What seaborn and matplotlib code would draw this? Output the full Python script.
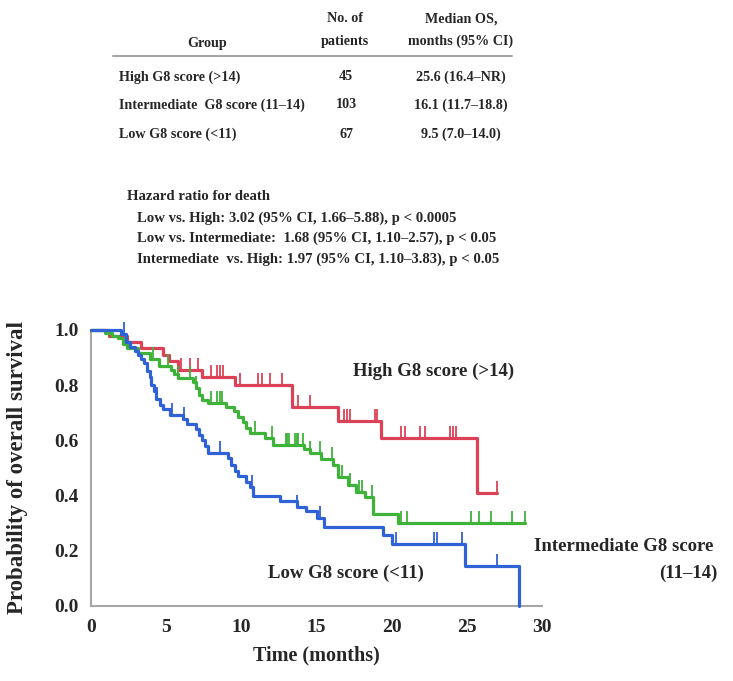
import numpy as np
import pandas as pd
import matplotlib
matplotlib.use("Agg")
import matplotlib.pyplot as plt
import seaborn as sns
from matplotlib.ticker import MultipleLocator

# ---------------- data ----------------
high_times = [0, 1.2, 2.4, 3.3, 4.8, 5.2, 5.8, 7.4, 9.6, 13.4, 16.4, 19.3, 25.7, 27.0]
high_surv = [1.0, 0.978, 0.956, 0.933, 0.911, 0.889, 0.856, 0.83, 0.80, 0.72, 0.67, 0.61, 0.41, 0.41]
high_cens = [6.0, 6.6, 7.1, 8.0, 8.4, 8.6, 8.8, 9.9, 11.1, 11.4, 11.9, 12.7, 13.8, 14.6,
             16.85, 17.0, 17.2, 18.9, 19.05, 20.65, 20.9, 21.9, 22.2, 23.9, 24.1, 24.3, 27.0]

mid_times = [0, 0.9, 1.4, 1.8, 2.1, 2.4, 3.1, 3.9, 4.5, 5.3, 5.5, 5.8, 6.8, 7.0, 7.2, 7.4,
             7.8, 9.0, 9.5, 9.8, 10.1, 10.3, 10.6, 11.6, 12.1, 14.2, 14.6, 15.3, 16.1, 16.4,
             17.1, 17.6, 18.2, 18.75, 20.4, 28.9]
mid_surv = [1.0, 0.99, 0.98, 0.97, 0.95, 0.935, 0.915, 0.895, 0.87, 0.855, 0.84, 0.825, 0.81,
            0.79, 0.765, 0.745, 0.735, 0.72, 0.705, 0.685, 0.665, 0.645, 0.628, 0.61, 0.585,
            0.57, 0.555, 0.533, 0.51, 0.467, 0.439, 0.412, 0.395, 0.334, 0.30, 0.30]
mid_cens = [4.1, 5.1, 5.8, 6.6, 7.0, 8.0, 8.4, 8.6, 8.7, 10.9, 12.05, 12.95, 13.05, 13.15,
            13.6, 13.7, 13.8, 14.07, 14.6, 15.2, 16.0, 16.7, 17.2, 17.8, 18.0, 18.7, 20.6,
            21.0, 25.3, 25.8, 26.6, 28.0, 28.9]

low_times = [0, 2.0, 2.3, 2.6, 2.9, 3.1, 3.3, 3.5, 3.7, 3.9, 4.0, 4.2, 4.35, 4.6, 4.8, 5.25,
             6.1, 6.4, 7.0, 7.2, 7.4, 7.6, 7.8, 9.1, 9.3, 9.6, 9.8, 10.3, 10.6, 10.8, 12.6,
             13.7, 14.3, 15.0, 15.5, 19.4, 20.0, 24.9, 28.5]
low_surv = [1.0, 0.985, 0.955, 0.94, 0.925, 0.91, 0.895, 0.88, 0.85, 0.83, 0.80, 0.78, 0.75,
            0.73, 0.715, 0.693, 0.676, 0.66, 0.64, 0.62, 0.60, 0.58, 0.555, 0.535, 0.51, 0.49,
            0.47, 0.45, 0.43, 0.40, 0.38, 0.36, 0.345, 0.318, 0.287, 0.257, 0.224, 0.145, 0.0]
low_cens = [2.2, 4.4, 5.4, 6.2, 8.6, 10.7, 13.7, 15.2, 20.3, 22.8, 23.0, 24.7, 27.0]

groups = ["High G8 score (>14)", "Intermediate  G8 score (11\u201314)", "Low G8 score (<11)"]
n_patients = ["45", "103", "67"]
median_os = ["25.6 (16.4\u2013NR)", "16.1 (11.7\u201318.8)", "9.5 (7.0\u201314.0)"]
hazard_lines = ["Hazard ratio for death",
                "Low vs. High: 3.02 (95% CI, 1.66\u20135.88), p < 0.0005",
                "Low vs. Intermediate:  1.68 (95% CI, 1.10\u20132.57), p < 0.05",
                "Intermediate  vs. High: 1.97 (95% CI, 1.10\u20133.83), p < 0.05"]
x_ticks = [0, 5, 10, 15, 20, 25, 30]
y_ticks = [0.0, 0.2, 0.4, 0.6, 0.8, 1.0]

RED = "#dc4257"
GREEN = "#3fb23a"
BLUE = "#2f62d6"
GRAY = "#a6a6a6"

sns.set_style("white")
plt.rcParams["font.family"] = ["Liberation Serif", "DejaVu Serif"]
plt.rcParams["font.weight"] = "bold"

W, H = 733, 681
fig = plt.figure(figsize=(W / 100, H / 100), dpi=100)


def px(x, y):
    return x / W, 1 - y / H


ax = fig.add_axes([91 / W, 1 - 606 / H, (542 - 91) / W, (606 - 330) / H])

series = [(high_times, high_surv, high_cens, RED),
          (mid_times, mid_surv, mid_cens, GREEN),
          (low_times, low_surv, low_cens, BLUE)]
for t, s, c, col in series:
    df = pd.DataFrame({"t": t, "s": s})
    sns.lineplot(data=df, x="t", y="s", drawstyle="steps-post", color=col, lw=2.3,
                 estimator=None, sort=False, ax=ax, clip_on=False, zorder=3)
    ta = np.asarray(t)
    sa = np.asarray(s)
    idx = np.searchsorted(ta, np.asarray(c), side="right") - 1
    cdf = pd.DataFrame({"t": c, "s": sa[idx]})
    sns.scatterplot(data=cdf, x="t", y="s", marker=2, s=70, color=col, linewidth=1.3,
                    ax=ax, clip_on=False, zorder=3)

ax.set_xlim(0, 30)
ax.set_ylim(0, 1.0)
ax.set_xticks(x_ticks)
ax.set_yticks(y_ticks)
ax.set_xticklabels([str(v) for v in x_ticks])
ax.set_yticklabels([f"{v:.1f}" for v in y_ticks])
ax.xaxis.set_minor_locator(MultipleLocator(2.5))
ax.yaxis.set_minor_locator(MultipleLocator(0.1))
for side in ["top", "right"]:
    ax.spines[side].set_visible(False)
for side in ["left", "bottom"]:
    ax.spines[side].set_color(GRAY)
    ax.spines[side].set_linewidth(1.5)
ax.tick_params(axis="both", which="both", direction="out", color=GRAY, width=1.2,
               labelsize=14, length=5, pad=4)
ax.tick_params(axis="both", which="minor", length=5)
for lab in ax.get_xticklabels() + ax.get_yticklabels():
    lab.set_fontweight("bold")
ax.set_xlabel("Time (months)", fontsize=14.5, fontweight="bold", labelpad=7)
ax.set_ylabel("Probability of overall survival", fontsize=16.5, fontweight="bold")
ax.yaxis.set_label_coords((28 - 91) / (542 - 91), 0.5)

# curve labels
ax.text(17.4, 0.85, groups[0], fontsize=13.5, fontweight="bold", ha="left", va="center")
ax.text(29.5, 0.215, "Intermediate G8 score", fontsize=13.5, fontweight="bold",
        ha="left", va="center")
ax.text(41.7, 0.12, "(11\u201314)", fontsize=13.5, fontweight="bold", ha="right", va="center")
ax.text(11.8, 0.12, groups[2], fontsize=13.5, fontweight="bold", ha="left", va="center")

# table
tfs = 10.2
fig.text(*px(345, 19), "No. of", fontsize=tfs, ha="center", va="center")
fig.text(*px(345, 41), "patients", fontsize=tfs, ha="center", va="center")
fig.text(*px(461, 19), "Median OS,", fontsize=tfs, ha="center", va="center")
fig.text(*px(461, 41), "months (95% CI)", fontsize=tfs, ha="center", va="center")
fig.text(*px(207, 43), "Group", fontsize=tfs, ha="center", va="center")
fig.add_artist(plt.Line2D([113 / W, 512 / W], [1 - 56 / H, 1 - 56 / H], color=GRAY, lw=1.5))
row_y = [77, 105, 134]
for g, n, m, yy in zip(groups, n_patients, median_os, row_y):
    fig.text(*px(119, yy), g, fontsize=tfs, ha="left", va="center")
    fig.text(*px(346, yy), n, fontsize=tfs, ha="center", va="center")
    fig.text(*px(461, yy), m, fontsize=tfs, ha="center", va="center")

# hazard ratios
hy = [197, 218, 238, 259]
hx = [127, 137, 137, 137]
for txt, xx, yy in zip(hazard_lines, hx, hy):
    fig.text(*px(xx, yy), txt, fontsize=10.6, ha="left", va="center")

fig.savefig("out.png", dpi=100)
